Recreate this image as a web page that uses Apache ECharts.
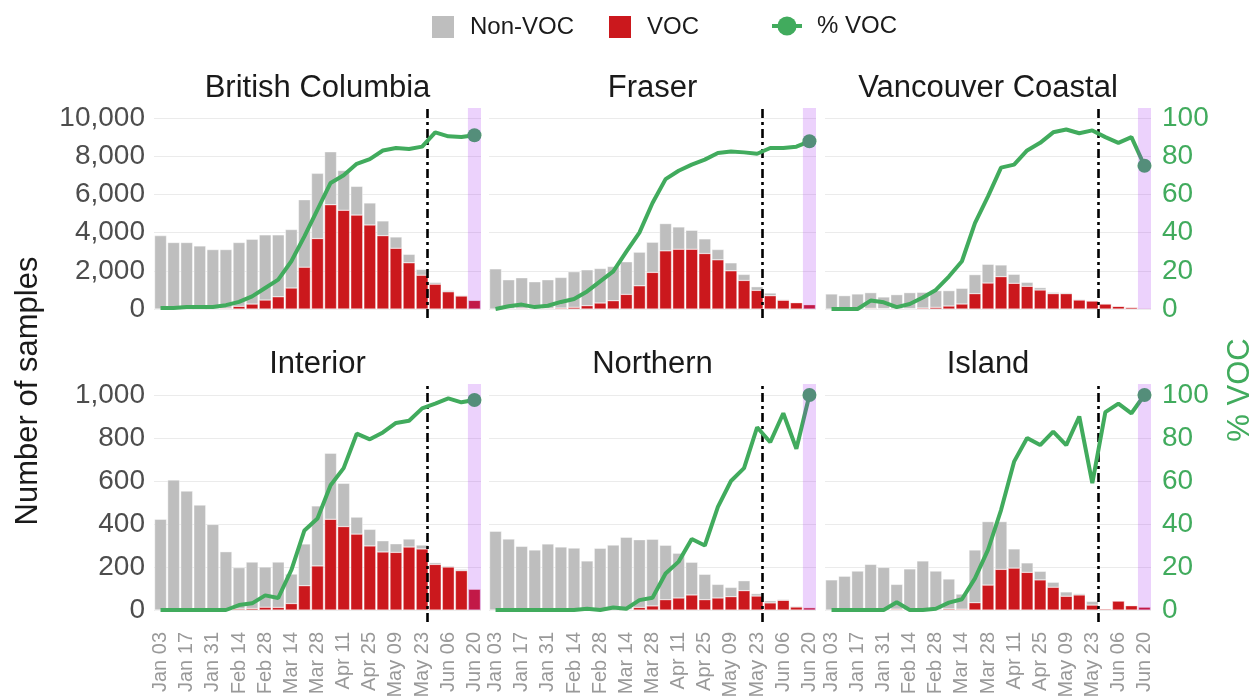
<!DOCTYPE html>
<html><head><meta charset="utf-8">
<script src="https://cdn.jsdelivr.net/npm/echarts@6/dist/echarts.min.js"></script>
<style>html,body{margin:0;padding:0;background:#fff}#c{width:1256px;height:700px}</style>
</head><body><div id="c"></div>
<script>
// ---------------- data ----------------
const weeks = ['Jan 03','Jan 10','Jan 17','Jan 24','Jan 31','Feb 07','Feb 14','Feb 21','Feb 28',
  'Mar 07','Mar 14','Mar 21','Mar 28','Apr 04','Apr 11','Apr 18','Apr 25','May 02','May 09',
  'May 16','May 23','May 30','Jun 06','Jun 13','Jun 20'];
const regionNames = ['British Columbia','Fraser','Vancouver Coastal','Interior','Northern','Island'];

const vocBC    = [0,0,10,10,20,40,140,260,470,640,1100,2190,3690,5460,5170,4920,4400,3840,3180,2420,1770,1300,900,680,450];
const nonVocBC = [3840,3480,3470,3290,3090,3070,3340,3390,3410,3240,3060,3530,3410,2770,2080,1500,1150,770,590,440,300,90,70,40,30];
const pctBC    = [0.5,0.5,1,1,1,2,3.7,6.6,11,15.4,25,38,52,66,70,76,78.5,83,84.3,83.8,85,92.5,90.4,90,91];

const vocFraser    = [0,20,35,15,30,50,90,175,315,435,765,1215,1915,3045,3130,3130,2905,2575,2000,1495,975,695,460,330,225];
const nonVocFraser = [2100,1510,1600,1410,1500,1600,1860,1875,1805,1790,1705,1760,1580,1425,1165,990,765,540,415,315,190,140,35,20,20];
const pctFraser    = [0,1.4,2.3,1,1.7,3.7,5.2,9.2,14.5,19.7,30,40,55.5,68,72.4,75.6,78.2,81.7,82.5,82,81.3,84.3,84.3,85,87.8];

const vocVanc    = [0,0,0,35,20,10,20,52,87,157,262,803,1361,1693,1344,1187,995,803,803,471,419,262,140,87,35];
const nonVocVanc = [785,698,785,820,608,740,835,820,873,803,820,995,978,611,471,209,122,70,50,40,25,25,17,15,15];
const pctVanc    = [0,0,0,4.4,3.5,1,2.6,6,10,17,25,45,59,74,75.6,83,87,92.5,94,92,93.5,90,87,90,75];

const vocInterior    = [0,0,0,0,0,0,5,7,13,12,30,113,205,422,388,353,298,270,268,293,284,212,200,183,97];
const nonVocInterior = [422,605,553,488,398,271,192,216,187,211,137,194,279,307,201,79,77,52,40,37,18,8,5,6,2];
const pctInterior    = [0,0,0,0,0,0,2.3,3.1,6.8,5.6,18.6,37,42.6,58,66,82,79.4,82.6,87,88,93.8,96,98.4,96.6,97.7];

const vocNorthern    = [0,0,0,0,0,0,0,1,0,3,2,12,19,48,56,70,48,56,62,90,65,33,45,14,11];
const nonVocNorthern = [366,330,296,279,307,293,288,227,287,299,336,315,310,253,208,152,118,63,43,46,11,10,4,4,0];
const pctNorthern    = [0,0,0,0,0,0,0,0.6,0,1.2,0.6,4.6,5.7,17,22.5,33,30,48,60,66,85,78,91.5,75,100];

const vocIsland    = [0,0,0,0,0,4,0,0,1,5,4,34,116,189,195,175,140,106,64,70,23,5,42,20,14];
const nonVocIsland = [140,157,181,212,198,115,191,228,180,139,70,245,295,222,89,44,40,23,20,6,17,1,1,2,0];
const pctIsland    = [0,0,0,0,0,3.6,0,0,0.6,3.4,5,14.7,28,46.5,69,80,76.7,83,76.7,90,59,92,96,91.5,100];

const cutoffWeekPos = 20.42;      // dash-dot cut-off line (between May 23 and May 30)
const shadedWeek = 'Jun 20';      // highlighted (incomplete) week
const countTicksTop = [0, 10000, 2000];
const countTicksBottom = [0, 1000, 200];
const pctTicks = [0, 100, 20];

// ---------------- layout / style ----------------
const FONT = '"Liberation Sans", Arial, sans-serif';
const C_NON = '#bebebe', C_VOC = '#cb181d', C_PCT = '#41ab5d';
const colLeft = [154, 489, 825], colWidth = [327, 327, 326];
const rows = [
  {barTop: 118, barBottom: 309, ovTop: 108, ovBottom: 318, ticks: countTicksTop, titleY: 88},
  {barTop: 395, barBottom: 610, ovTop: 384, ovBottom: 622, ticks: countTicksBottom, titleY: 364}
];
const panelData = [
  [vocBC, nonVocBC, pctBC], [vocFraser, nonVocFraser, pctFraser], [vocVanc, nonVocVanc, pctVanc],
  [vocInterior, nonVocInterior, pctInterior], [vocNorthern, nonVocNorthern, pctNorthern], [vocIsland, nonVocIsland, pctIsland]
];
const shadedIdx = weeks.indexOf(shadedWeek);

const grid = [], xAxis = [], yAxis = [], series = [], graphic = [];
panelData.forEach((pd, i) => {
  const r = Math.floor(i / 3), c = i % 3, R = rows[r];
  const [ymin, ymax, yint] = R.ticks;
  const pxPerUnit = (R.barBottom - R.barTop) / (ymax - ymin);
  const ovMin = ymin - (R.ovBottom - R.barBottom) / pxPerUnit;
  const ovMax = ymax + (R.barTop - R.ovTop) / pxPerUnit;
  grid.push({left: colLeft[c], width: colWidth[c], top: R.barTop, height: R.barBottom - R.barTop, outerBoundsMode: 'none'});
  grid.push({left: colLeft[c], width: colWidth[c], top: R.ovTop, height: R.ovBottom - R.ovTop, outerBoundsMode: 'none'});
  const gb = 2 * i, go = 2 * i + 1;
  xAxis.push({
    type: 'category', gridIndex: gb, data: weeks, boundaryGap: true,
    axisLine: {show: false}, axisTick: {show: false},
    axisLabel: {show: r === 1, interval: 1, rotate: 90, margin: 22, color: '#999999', fontSize: 20, fontFamily: FONT}
  });
  xAxis.push({type: 'value', gridIndex: go, min: -0.5, max: weeks.length - 0.5, show: false});
  const yl = yAxis.length;
  yAxis.push({
    type: 'value', gridIndex: gb, min: ymin, max: ymax, interval: yint, position: 'left',
    axisLine: {show: false}, axisTick: {show: false},
    axisLabel: {show: c === 0, margin: 9, color: '#4d4d4d', fontSize: 28, fontFamily: FONT,
      formatter: v => v.toLocaleString('en-US')},
    splitLine: {show: true, lineStyle: {color: '#ebebeb', width: 1}}
  });
  yAxis.push({
    type: 'value', gridIndex: gb, min: pctTicks[0], max: pctTicks[1], interval: pctTicks[2], position: 'right',
    axisLine: {show: false}, axisTick: {show: false},
    axisLabel: {show: c === 2, margin: 11, color: C_PCT, fontSize: 28, fontFamily: FONT},
    splitLine: {show: false}
  });
  yAxis.push({type: 'value', gridIndex: go, min: ovMin, max: ovMax, show: false});

  const stack = 'p' + i;
  const barCommon = {type: 'bar', xAxisIndex: gb, yAxisIndex: yl, stack, barCategoryGap: '9%', z: 2, animation: false};
  series.push(Object.assign({}, barCommon, {name: 'VOC', data: pd[0],
    itemStyle: {color: C_VOC, borderColor: '#ffffff', borderWidth: 0.4}}));
  series.push(Object.assign({}, barCommon, {name: 'Non-VOC', data: pd[1],
    itemStyle: {color: C_NON, borderColor: '#ffffff', borderWidth: 0.4}}));
  // cut-off line
  series.push({type: 'line', xAxisIndex: go, yAxisIndex: yl + 2, data: [[-0.5, ovMin]], showSymbol: false,
    lineStyle: {opacity: 0}, z: 3, silent: true, animation: false,
    markLine: {silent: true, z: 3, symbol: ['none', 'none'], label: {show: false},
      lineStyle: {color: '#000000', width: 2.6, type: [9, 4, 3, 4]},
      data: [{xAxis: cutoffWeekPos}]}});
  // % VOC line
  series.push({name: '% VOC', type: 'line', xAxisIndex: gb, yAxisIndex: yl + 1, z: 4, animation: false,
    symbol: 'circle', symbolSize: 14, showAllSymbol: true,
    data: pd[2].map((v, k) => k === pd[2].length - 1 ? {value: v} : {value: v, symbol: 'none'}),
    lineStyle: {color: C_PCT, width: 4}, itemStyle: {color: C_PCT}});
  // shaded week band (overlay, drawn above bars and line)
  series.push({type: 'line', xAxisIndex: go, yAxisIndex: yl + 2, data: [[-0.5, ovMin]], showSymbol: false,
    lineStyle: {opacity: 0}, z: 10, silent: true, animation: false,
    markArea: {silent: true, z: 10, itemStyle: {color: 'rgba(160,32,240,0.2)'},
      data: [[{xAxis: shadedIdx - 0.5, yAxis: 0}, {xAxis: shadedIdx + 0.5, yAxis: ovMax}]]}});
  graphic.push({type: 'text', x: colLeft[c] + colWidth[c] / 2, y: R.titleY,
    style: {text: regionNames[i], font: '31px ' + FONT, fill: '#1a1a1a', textAlign: 'center', textVerticalAlign: 'middle'}});
});

graphic.push({type: 'text', x: 28, y: 391, rotation: Math.PI / 2,
  style: {text: 'Number of samples', font: '31px ' + FONT, fill: '#1a1a1a', textAlign: 'center', textVerticalAlign: 'middle'}});
graphic.push({type: 'text', x: 1240, y: 390, rotation: Math.PI / 2,
  style: {text: '% VOC', font: '31px ' + FONT, fill: C_PCT, textAlign: 'center', textVerticalAlign: 'middle'}});

const legendText = {fontSize: 24, fontFamily: FONT, color: '#1a1a1a', padding: [0, 0, 0, 10]};
const option = {
  animation: false,
  backgroundColor: '#ffffff',
  grid, xAxis, yAxis, series, graphic,
  legend: [
    {data: ['Non-VOC'], left: 425, top: 9, itemWidth: 24, itemHeight: 24, icon: 'rect', textStyle: legendText, selectedMode: false},
    {data: ['VOC'], left: 602, top: 9, itemWidth: 24, itemHeight: 24, icon: 'rect', textStyle: legendText, selectedMode: false},
    {data: ['% VOC'], left: 765, top: 9, itemWidth: 30, itemHeight: 24, textStyle: legendText, selectedMode: false,
      itemStyle: {color: C_PCT}, lineStyle: {color: C_PCT, width: 4}}
  ]
};
const chart = echarts.init(document.getElementById('c'), null, {renderer: 'canvas'});
chart.setOption(option);
</script>
</body></html>
